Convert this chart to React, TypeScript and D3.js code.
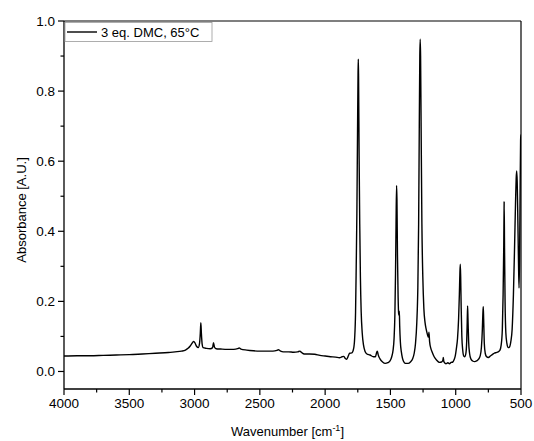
import React from "react";
import * as d3 from "d3";

const wavenumbers: number[] = [
  4000, 3900, 3800, 3700, 3600, 3500, 3400, 3300, 3200, 3150, 3100, 3070, 3050, 3035, 3020, 3008, 2998, 2985, 2972, 2962,
  2956, 2952, 2948, 2942, 2935, 2910, 2880, 2862, 2855, 2848, 2835, 2800, 2750, 2700, 2670, 2658, 2645, 2600, 2550, 2500,
  2450, 2400, 2370, 2358, 2345, 2320, 2280, 2240, 2210, 2193, 2180, 2160, 2120, 2080, 2040, 2000, 1960, 1920, 1890, 1870,
  1858, 1845, 1835, 1822, 1812, 1795, 1782, 1774, 1767, 1762, 1757, 1752, 1748, 1746, 1744, 1740, 1735, 1730, 1724, 1716,
  1706, 1695, 1680, 1657, 1630, 1615, 1605, 1600, 1594, 1580, 1560, 1540, 1520, 1503, 1490, 1480, 1472, 1466, 1461, 1457,
  1453, 1450, 1446, 1441, 1437, 1434, 1432, 1429, 1424, 1416, 1408, 1400, 1385, 1365, 1345, 1330, 1318, 1308, 1298, 1290,
  1284, 1279, 1275, 1272, 1269, 1265, 1259, 1252, 1244, 1235, 1226, 1216, 1209, 1205, 1200, 1190, 1180, 1165, 1145, 1125,
  1108, 1098, 1095, 1091, 1075, 1060, 1048, 1035, 1022, 1012, 1003, 995, 986, 978, 972, 968, 965, 962, 958, 953,
  946, 938, 930, 922, 916, 912, 909, 906, 901, 894, 884, 870, 855, 840, 825, 812, 803, 796, 792, 789,
  786, 781, 774, 765, 750, 735, 720, 705, 690, 675, 662, 652, 643, 637, 632, 629, 626, 622, 616, 608,
  598, 588, 578, 568, 558, 549, 542, 537, 533, 529, 524, 519, 515, 511, 507, 503, 501, 500,
];

const absorbance: number[] = [
  0.044, 0.045, 0.045, 0.046, 0.047, 0.048, 0.05, 0.052, 0.054, 0.056, 0.058, 0.061, 0.066, 0.072, 0.08, 0.086, 0.082, 0.072, 0.068, 0.08,
  0.11, 0.139, 0.11, 0.078, 0.068, 0.066, 0.065, 0.068, 0.082, 0.07, 0.065, 0.064, 0.063, 0.063, 0.065, 0.067, 0.064, 0.061, 0.059, 0.058,
  0.058, 0.058, 0.06, 0.062, 0.059, 0.056, 0.056, 0.055, 0.056, 0.058, 0.054, 0.05, 0.05, 0.049, 0.046, 0.044, 0.042, 0.041, 0.039, 0.042,
  0.043, 0.037, 0.035, 0.045, 0.052, 0.053, 0.065, 0.095, 0.17, 0.3, 0.45, 0.68, 0.85, 0.891, 0.84, 0.62, 0.42, 0.27, 0.17, 0.11,
  0.075, 0.058, 0.05, 0.047, 0.042, 0.042, 0.055, 0.058, 0.048, 0.036, 0.027, 0.023, 0.025, 0.03, 0.042, 0.06, 0.095, 0.16, 0.28, 0.42,
  0.531, 0.49, 0.33, 0.21, 0.165, 0.16, 0.172, 0.13, 0.085, 0.055, 0.038, 0.029, 0.023, 0.023, 0.028, 0.036, 0.052, 0.08, 0.14, 0.24,
  0.42, 0.7, 0.9, 0.948, 0.9, 0.7, 0.42, 0.27, 0.18, 0.14, 0.12, 0.105, 0.098, 0.112, 0.085, 0.065, 0.055, 0.042, 0.032, 0.026,
  0.027, 0.033, 0.04, 0.028, 0.022, 0.025, 0.022, 0.026, 0.027, 0.034, 0.045, 0.065, 0.095, 0.15, 0.22, 0.28, 0.306, 0.27, 0.18, 0.1,
  0.06, 0.044, 0.042, 0.052, 0.085, 0.14, 0.187, 0.15, 0.085, 0.052, 0.036, 0.03, 0.028, 0.03, 0.035, 0.045, 0.07, 0.12, 0.165, 0.185,
  0.15, 0.08, 0.052, 0.043, 0.04, 0.044, 0.048, 0.052, 0.054, 0.056, 0.06, 0.075, 0.12, 0.22, 0.36, 0.484, 0.35, 0.2, 0.11, 0.08,
  0.068, 0.07, 0.085, 0.12, 0.22, 0.36, 0.48, 0.55, 0.572, 0.54, 0.43, 0.31, 0.238, 0.32, 0.5, 0.66, 0.675, 0.675,
];

const xMajorTicks: number[] = [4000, 3500, 3000, 2500, 2000, 1500, 1000, 500];
const xMinorTicks: number[] = [3750, 3250, 2750, 2250, 1750, 1250, 750];
const yMajorTicks: number[] = [0, 0.2, 0.4, 0.6, 0.8, 1.0];
const yMinorTicks: number[] = [0.1, 0.3, 0.5, 0.7, 0.9];

const legendLabel = "3 eq. DMC, 65°C";
const xTitle = "Wavenumber [cm";
const yTitle = "Absorbance [A.U.]";

const W = 534;
const H = 441;
const left = 64;
const right = 521;
const top = 21;
const bottom = 389;
const FONT = "'Liberation Sans', Arial, sans-serif";

export default function App() {
  const x = d3.scaleLinear().domain([4000, 500]).range([left, right]);
  const y = d3.scaleLinear().domain([-0.05, 1.0]).range([bottom, top]);
  const pts = wavenumbers.map((w, i) => [w, absorbance[i]] as [number, number]);
  const line = d3
    .line<[number, number]>()
    .x((d) => x(d[0]))
    .y((d) => y(d[1]))
    .curve(d3.curveMonotoneX);
  const path = line(pts.slice().reverse()) || "";

  return (
    <svg
      width={W}
      height={H}
      style={{ position: "absolute", left: 0, top: 0, background: "#fff" }}
      fontFamily={FONT}
    >
      <rect x={0} y={0} width={W} height={H} fill="#fff" />
      <defs>
        <clipPath id="plotclip">
          <rect x={left} y={top} width={right - left} height={bottom - top} />
        </clipPath>
      </defs>
      <path d={path} fill="none" stroke="#000" strokeWidth={1.4} strokeLinejoin="round" clipPath="url(#plotclip)" />
      {/* frame */}
      <line x1={left} x2={right} y1={top} y2={top} stroke="#000" strokeWidth={1.2} />
      <line x1={right} x2={right} y1={top} y2={bottom} stroke="#000" strokeWidth={1.2} />
      <line x1={left} x2={left} y1={top} y2={bottom} stroke="#000" strokeWidth={1.3} />
      <line x1={left} x2={right} y1={bottom} y2={bottom} stroke="#000" strokeWidth={1.3} />
      {/* x ticks */}
      {xMajorTicks.map((t) => (
        <g key={"xm" + t}>
          <line x1={x(t)} x2={x(t)} y1={bottom} y2={bottom + 6} stroke="#000" strokeWidth={1.2} />
          <text x={x(t)} y={bottom + 19} textAnchor="middle" fontSize={13.5} fill="#000">
            {t}
          </text>
        </g>
      ))}
      {xMinorTicks.map((t) => (
        <line key={"xn" + t} x1={x(t)} x2={x(t)} y1={bottom} y2={bottom + 3.5} stroke="#000" strokeWidth={1.2} />
      ))}
      {/* y ticks */}
      {yMajorTicks.map((t) => (
        <g key={"ym" + t}>
          <line x1={left - 6} x2={left} y1={y(t)} y2={y(t)} stroke="#000" strokeWidth={1.2} />
          <text x={left - 9} y={y(t) + 4.5} textAnchor="end" fontSize={13.5} fill="#000">
            {t.toFixed(1)}
          </text>
        </g>
      ))}
      {yMinorTicks.map((t) => (
        <line key={"yn" + t} x1={left - 3.5} x2={left} y1={y(t)} y2={y(t)} stroke="#000" strokeWidth={1.2} />
      ))}
      {/* axis titles */}
      <text x={(left + right) / 2 - 5} y={436} textAnchor="middle" fontSize={13} fill="#000">
        {xTitle}
        <tspan dy={-5} fontSize={9}>-1</tspan>
        <tspan dy={5}>]</tspan>
      </text>
      <text
        transform={`translate(26, ${(top + bottom) / 2 + 5}) rotate(-90)`}
        textAnchor="middle"
        fontSize={13}
        fill="#000"
      >
        {yTitle}
      </text>
      {/* legend */}
      <rect x={65} y={22.5} width={147} height={19} fill="#fff" stroke="#999" strokeWidth={0.8} />
      <line x1={67} x2={97} y1={32} y2={32} stroke="#000" strokeWidth={1.4} />
      <text x={101} y={36.5} fontSize={13} fill="#000">
        {legendLabel}
      </text>
    </svg>
  );
}
